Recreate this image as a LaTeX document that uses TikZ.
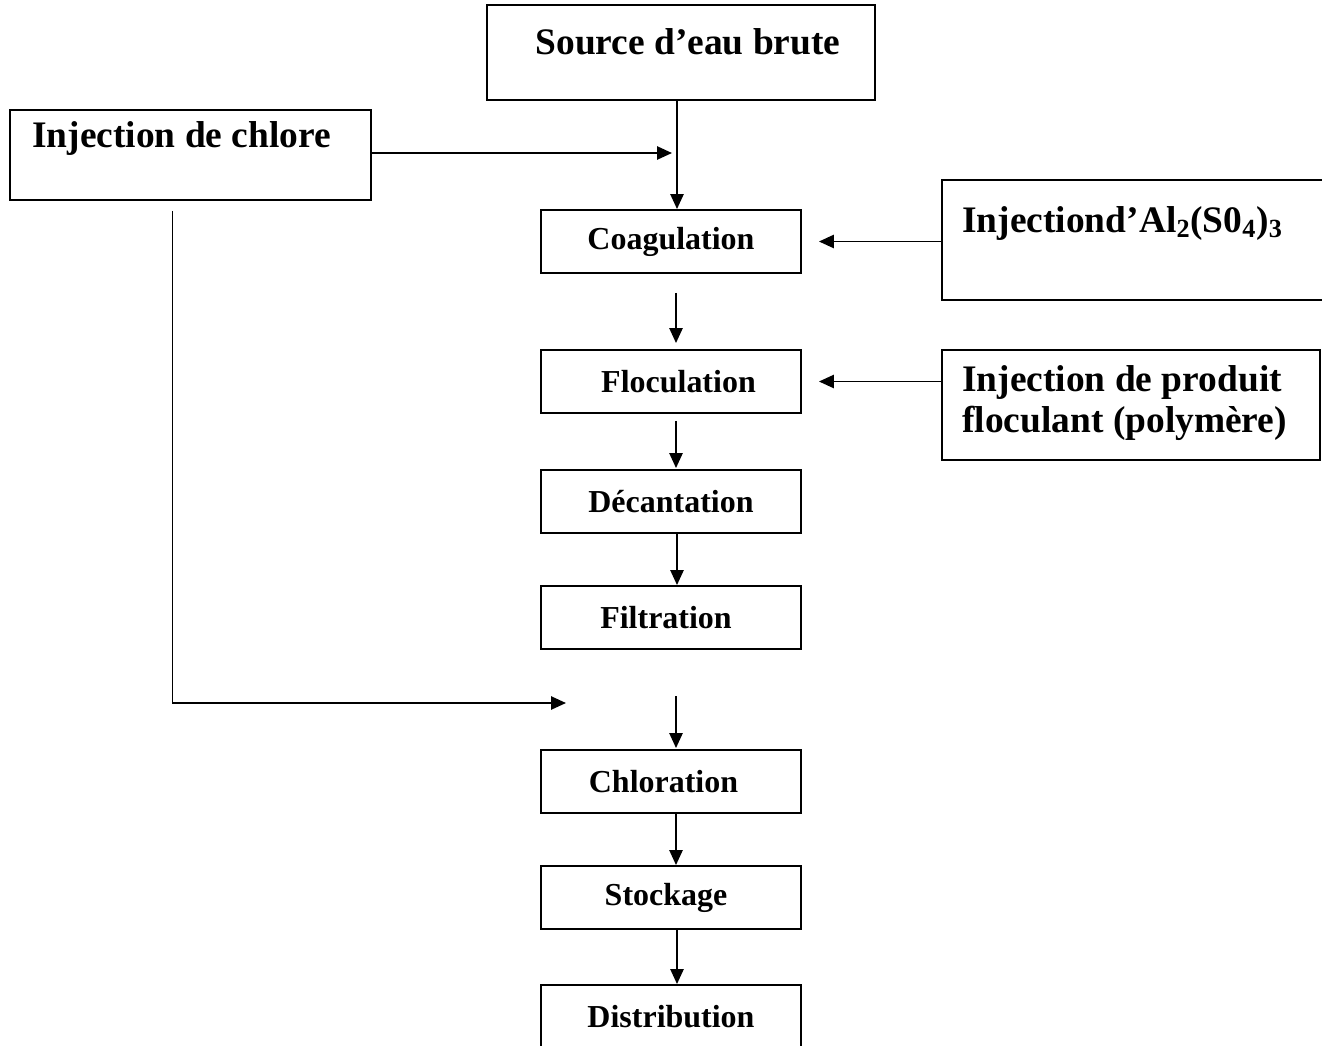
\documentclass[tikz,border=0pt]{standalone}
\usepackage{fontspec}
\setmainfont{Liberation Serif}
\usetikzlibrary{arrows.meta, calc, positioning}

\begin{document}
\begin{tikzpicture}[x=0.02cm, y=-0.02cm,
    stage/.style={draw, line width=1.1pt, minimum width=5.2cm,
      minimum height=1.26cm, inner sep=0pt,
      font=\fontsize{18.2}{20}\selectfont\bfseries},
    bigbox/.style={draw, line width=1.1pt, inner sep=0pt},
    bigtext/.style={inner sep=0pt,
      font=\fontsize{21.3}{23}\selectfont\bfseries},
    flow/.style={-{Triangle[length=8.5pt,width=7.5pt]}, line width=1.1pt}]
  \clip (0,0) rectangle (1322,1045);
  %---- inputs -----------------------------------------------------------------
  \node[bigbox, minimum width=7.76cm, minimum height=1.9cm] (src) at (681,52.5) {};
  \node[bigtext] (srctxt) at (688,42) {Source d’eau brute};
  \node[bigbox, minimum width=7.22cm, minimum height=1.8cm] (chl) at (190.5,155) {};
  \node[bigtext, anchor=west] (chltxt) at (32,138) {Injection de chlore};
  \node[bigbox, minimum width=7.76cm, minimum height=2.4cm] (alu) at (1136,240) {};
  \node[bigtext, anchor=west] (alutxt) at (962,223)
    {Injectiond’Al\textsubscript{2}(S0\textsubscript{4})\textsubscript{3}};
  \node[bigbox, minimum width=7.56cm, minimum height=2.2cm] (poly) at (1131,405) {};
  \node[bigtext, anchor=west, align=left] (polytxt) at (962,403)
    {Injection de produit\\floculant (polymère)};
  %---- treatment line ---------------------------------------------------------
  \node[stage] (coag)  at (671,241.5) {Coagulation};
  \node[stage] (floc)  at (671,381.5) {\hspace{0.3cm}Floculation};
  \node[stage] (dec)   at (671,501.5) {Décantation};
  \node[stage] (filt)  at (671,617.5) {\hspace{-0.2cm}Filtration};
  \node[stage] (chlo)  at (671,781.5) {\hspace{-0.3cm}Chloration};
  \node[stage] (stock) at (671,897.5) {\hspace{-0.2cm}Stockage};
  \node[stage] (dist)  at (671,1016.5) {Distribution};
  \coordinate (mix) at (677,153);
  \coordinate (inj) at (566,703);
  %---- arrows -----------------------------------------------------------------
  \draw[flow] (chl.east |- mix) -- ($(mix)+(-5,0)$);
  \draw[flow] (src.south -| mix) -- (coag.north -| mix);
  \draw[flow] (alu.west |- coag.east) -- ($(coag.east)+(17,0)$);
  \draw[flow] (poly.west |- floc.east) -- ($(floc.east)+(17,0)$);
  \draw[flow] ($(coag.south)+(5,19)$) -- ($(floc.north)+(5,-6)$);
  \draw[flow] ($(floc.south)+(5,7)$) -- ($(dec.north)+(5,-1)$);
  \draw[flow] ($(dec.south)+(6,0)$) -- ($(filt.north)+(6,0)$);
  \draw[flow] ($(chl.south)+(-18,10)$) |- (inj);
  \draw[flow] ($(chlo.north)+(5,-53)$) -- ($(chlo.north)+(5,-1)$);
  \draw[flow] ($(chlo.south)+(5,0)$) -- ($(stock.north)+(5,0)$);
  \draw[flow] ($(stock.south)+(6,0)$) -- ($(dist.north)+(6,0)$);
\end{tikzpicture}
\end{document}
